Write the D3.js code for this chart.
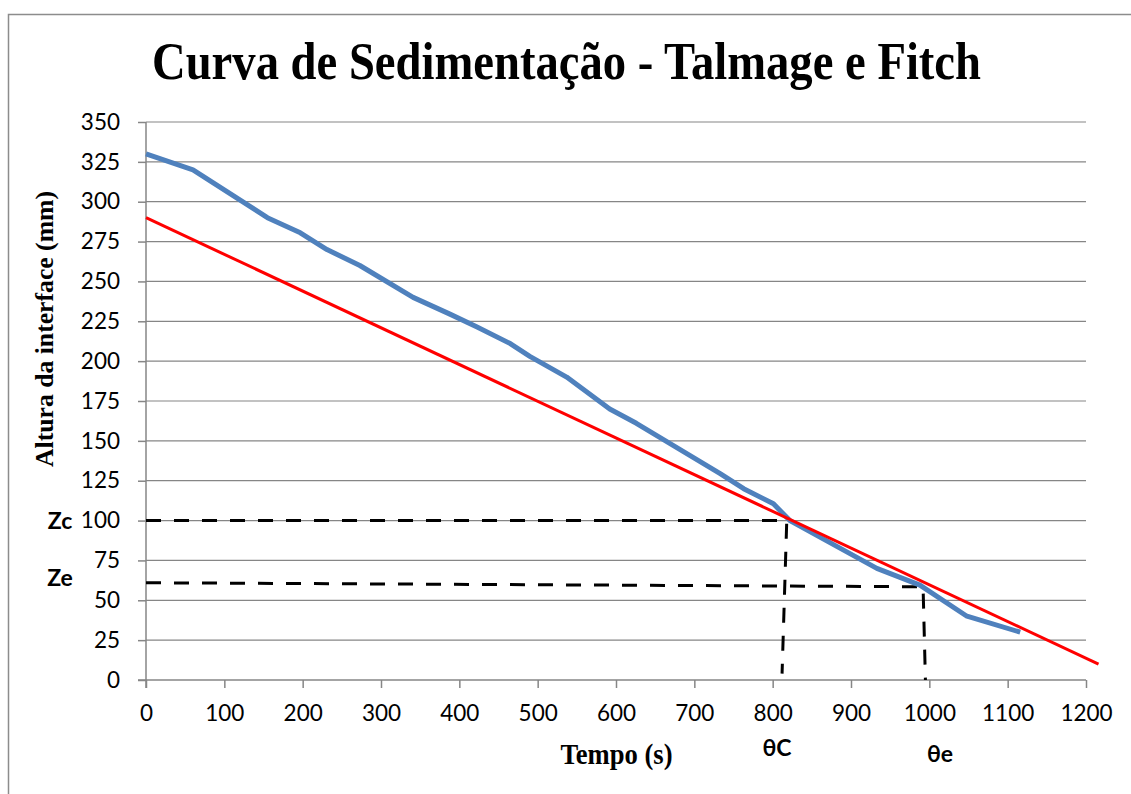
<!DOCTYPE html>
<html><head><meta charset="utf-8">
<script src="https://cdn.jsdelivr.net/npm/d3@7/dist/d3.min.js"></script>
<style>
html,body{margin:0;padding:0;background:#fff;}
svg{display:block;}
</style></head>
<body>
<svg id="chart" width="1131" height="794"></svg>
<script>
// ---- data ----
const chartTitle = "Curva de Sedimentação - Talmage e Fitch";
const xTitle = "Tempo (s)";
const yTitle = "Altura da interface (mm)";
const xTicks = [0,100,200,300,400,500,600,700,800,900,1000,1100,1200];
const yTicks = [0,25,50,75,100,125,150,175,200,225,250,275,300,325,350];
// settling curve (blue)
const tempo  = [0, 60, 155, 197, 231, 273, 341, 388, 422, 465, 490, 537, 592, 626, 733, 763, 801, 822, 933, 988, 1048, 1116];
const altura = [330, 320, 290, 280.5, 270, 260, 240, 229.5, 221.5, 211, 203, 190, 170, 161, 129.5, 120, 110.5, 100, 70, 59.5, 40, 30];
// tangent line (red)
const tangTempo  = [0, 1216];
const tangAltura = [290, 10];
// construction (dashed) lines
const zcTempo  = [0, 818, 812];
const zcAltura = [100, 100, 4];
const zeTempo  = [0, 992, 995];
const zeAltura = [61, 58.5, 0];
// special labels
const yMarks = [{label:"Zc", v:100}, {label:"Ze", v:64}];
const xMarks = [{label:"θC", t:805}, {label:"θe", t:1010}];

// ---- layout ----
const svg = d3.select("#chart");
const x = d3.scaleLinear().domain([0,1200]).range([146,1086]);
const y = d3.scaleLinear().domain([0,350]).range([680,122]);
const gridCol = "#868686";
const serif = "'Liberation Serif','Times New Roman',serif";
const sans = "Lato,'Open Sans',sans-serif";

// outer border
svg.append("rect").attr("x",8.5).attr("y",14.5).attr("width",1140).attr("height",800)
  .attr("fill","none").attr("stroke","#8c8c8c").attr("stroke-width",1.5);

// title
svg.append("text").attr("x",566.5).attr("y",79).attr("text-anchor","middle")
  .attr("font-family",serif).attr("font-weight","bold")
  .attr("font-size",52).attr("textLength",829).attr("lengthAdjust","spacingAndGlyphs")
  .text(chartTitle);

// gridlines
svg.append("g").selectAll("line").data(yTicks.filter(d=>d>0)).join("line")
  .attr("x1",x(0)).attr("x2",x(1200)).attr("y1",d=>y(d)).attr("y2",d=>y(d))
  .attr("stroke",gridCol).attr("stroke-width",1.2);

// axes
const yAxis = d3.axisLeft(y).tickValues(yTicks).tickSize(8).tickFormat(d3.format("d"));
const gy = svg.append("g").attr("transform",`translate(${x(0)},0)`).call(yAxis);
const xAxis = d3.axisBottom(x).tickValues(xTicks).tickSize(8).tickFormat(d3.format("d"));
const gx = svg.append("g").attr("transform",`translate(0,${y(0)})`).call(xAxis);
[gx,gy].forEach(g=>{
  g.select(".domain").attr("stroke",gridCol).attr("stroke-width",1.5);
  g.selectAll(".tick line").attr("stroke",gridCol).attr("stroke-width",1.5);
  g.selectAll(".tick text").attr("font-family",sans)
    .attr("font-size",22.5).attr("fill","#000");
});
gy.select(".domain").attr("d",`M0,${y(350)}V${y(0)+8}`);
gx.select(".domain").attr("d",`M${x(0)-8},0H${x(1200)}`);
gy.selectAll(".tick text").attr("x",-26);
gx.selectAll(".tick text").attr("y",25);

// axis titles
svg.append("text").attr("transform","translate(53,329) rotate(-90)").attr("text-anchor","middle")
  .attr("font-family",serif).attr("font-weight","bold")
  .attr("font-size",25).attr("textLength",276).attr("lengthAdjust","spacingAndGlyphs").text(yTitle);
svg.append("text").attr("x",616.5).attr("y",764).attr("text-anchor","middle")
  .attr("font-family",serif).attr("font-weight","bold")
  .attr("font-size",29).attr("textLength",112).attr("lengthAdjust","spacingAndGlyphs").text(xTitle);

// dashed construction lines
const line = d3.line().x(d=>x(d[0])).y(d=>y(d[1]));
[[zcTempo,zcAltura],[zeTempo,zeAltura]].forEach(([ts,vs])=>{
  svg.append("path").datum(ts.map((t,i)=>[t,vs[i]])).attr("d",line)
    .attr("fill","none").attr("stroke","#000").attr("stroke-width",3)
    .attr("stroke-dasharray","15,13");
});

// blue curve
svg.append("path").datum(tempo.map((t,i)=>[t,altura[i]])).attr("d",line)
  .attr("fill","none").attr("stroke","#4F81BD").attr("stroke-width",5)
  .attr("stroke-linejoin","round");

// red tangent
svg.append("path").datum(tangTempo.map((t,i)=>[t,tangAltura[i]])).attr("d",line)
  .attr("fill","none").attr("stroke","#FF0000").attr("stroke-width",3);

// Zc / Ze labels
svg.append("g").selectAll("text").data(yMarks).join("text")
  .attr("x",60).attr("y",d=>y(d.v)).attr("dy","0.35em").attr("text-anchor","middle")
  .attr("font-family",sans).attr("font-weight","bold").attr("font-size",23)
  .text(d=>d.label);

// θ labels
svg.append("text").attr("x",777).attr("y",756).attr("text-anchor","middle")
  .attr("font-family",sans).attr("font-weight","bold").attr("font-size",23)
  .text(xMarks[0].label);
svg.append("text").attr("x",940).attr("y",762).attr("text-anchor","middle")
  .attr("font-family",sans).attr("font-weight","bold").attr("font-size",23)
  .text(xMarks[1].label);
</script>
</body></html>
